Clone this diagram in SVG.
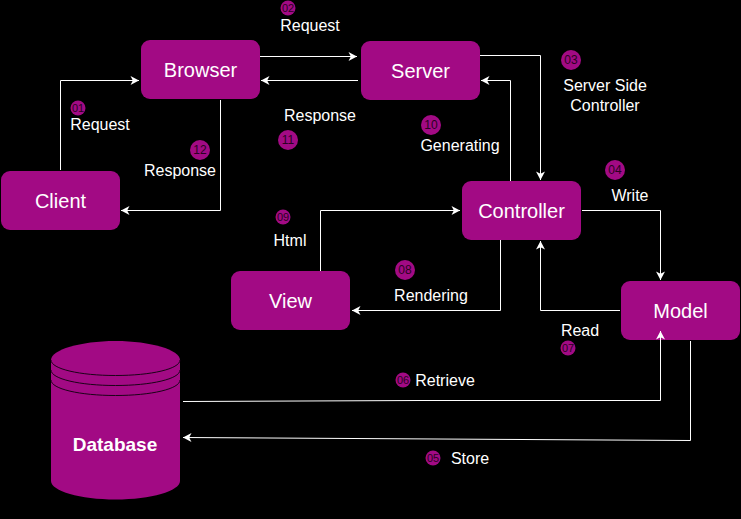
<svg xmlns="http://www.w3.org/2000/svg" width="741" height="519" viewBox="0 0 741 519">
<style>
text{font-family:"Liberation Sans",Arial,sans-serif;text-anchor:middle}
.n{fill:#a20a84}
.nt{font-size:20px;fill:#fff}
.l{font-size:16px;fill:#fff}
.b{fill:#a20a84}
.bt{fill:#2a0222;font-size:12px}
.bs{fill:#2a0222;font-size:11px}
.c{fill:none;stroke:#fff;stroke-width:1;marker-end:url(#a)}
.arc{fill:none;stroke:#1c0218;stroke-width:1}
</style>
<defs>
<marker id="a" markerUnits="userSpaceOnUse" markerWidth="10" markerHeight="10" refX="9" refY="5" orient="auto">
<path d="M0.500 0.500L9 5L0.500 9.500L2.800 5Z" fill="#fff"/>
</marker>
</defs>
<rect width="741" height="519" fill="#000"/>
<g id="browser"><rect class="n" x="141" y="40" width="119" height="59" rx="9"/><text class="nt" x="200.500" y="77">Browser</text></g>
<g id="server"><rect class="n" x="361" y="41" width="119" height="59" rx="9"/><text class="nt" x="420.500" y="78">Server</text></g>
<g id="client"><rect class="n" x="1" y="171" width="119" height="59" rx="9"/><text class="nt" x="60.500" y="208">Client</text></g>
<g id="controller"><rect class="n" x="462" y="181" width="119" height="59" rx="9"/><text class="nt" x="521.500" y="218">Controller</text></g>
<g id="view"><rect class="n" x="231" y="271" width="119" height="59" rx="9"/><text class="nt" x="290.500" y="308">View</text></g>
<g id="model"><rect class="n" x="621" y="281" width="119" height="59" rx="9"/><text class="nt" x="680.500" y="318">Model</text></g>
<g id="database">
<path class="n" d="M51 360C51 350 80 341 115.500 341S180 350 180 360V481C180 491 151 499.500 115.500 499.500S51 491 51 481Z"/>
<path class="arc" d="M51 360C51 369 80 375.500 115.500 375.500S180 369 180 360"/>
<path class="arc" d="M51 370C51 379 80 385.500 115.500 385.500S180 379 180 370"/>
<path class="arc" d="M51 380C51 389 80 395.500 115.500 395.500S180 389 180 380"/>
<text x="115" y="451" font-size="19" font-weight="700" fill="#fff">Database</text>
</g>
<g id="connectors">
<path class="c" d="M60.500 170V80.500H139"/>
<path class="c" d="M220.500 100V210.500H121"/>
<path class="c" d="M260 56.500H357"/>
<path class="c" d="M358 80.500H261"/>
<path class="c" d="M480 55.500H540.500V180"/>
<path class="c" d="M510.500 181V80.500H481"/>
<path class="c" d="M320.500 271V210.500H460"/>
<path class="c" d="M500.500 240V310.500H352"/>
<path class="c" d="M582 210.500H660.500V280"/>
<path class="c" d="M620 310.500H540.500V241"/>
<path class="c" d="M183 401.500L420 400.500H660.500V331"/>
<path class="c" d="M690.500 341V440.500L183 437.500"/>
</g>
<g id="labels">
<text class="l" x="100" y="130">Request</text>
<text class="l" x="310" y="31">Request</text>
<text class="l" x="320" y="121">Response</text>
<text class="l" x="180" y="176">Response</text>
<text class="l" x="605" y="91">Server Side</text>
<text class="l" x="605" y="111">Controller</text>
<text class="l" x="460" y="151">Generating</text>
<text class="l" x="630" y="201">Write</text>
<text class="l" x="290" y="246">Html</text>
<text class="l" x="431" y="301">Rendering</text>
<text class="l" x="580" y="336">Read</text>
<text class="l" x="445" y="386">Retrieve</text>
<text class="l" x="470" y="464">Store</text>
</g>
<g id="badges">
<circle class="b" cx="78" cy="108" r="7.500"/><text class="bs" x="78" y="112">01</text>
<circle class="b" cx="288" cy="8" r="7.500"/><text class="bs" x="288" y="12">02</text>
<circle class="b" cx="571" cy="60" r="10"/><text class="bt" x="571" y="64">03</text>
<circle class="b" cx="615" cy="170" r="10"/><text class="bt" x="615" y="174">04</text>
<circle class="b" cx="433" cy="458" r="7.500"/><text class="bs" x="433" y="462">05</text>
<circle class="b" cx="403" cy="380" r="7.500"/><text class="bs" x="403" y="384">06</text>
<circle class="b" cx="568" cy="348" r="7.500"/><text class="bs" x="568" y="352">07</text>
<circle class="b" cx="405" cy="270" r="10"/><text class="bt" x="405" y="274">08</text>
<circle class="b" cx="283" cy="217" r="7.500"/><text class="bs" x="283" y="221">09</text>
<circle class="b" cx="431" cy="125" r="10"/><text class="bt" x="431" y="129">10</text>
<circle class="b" cx="288" cy="140" r="10"/><text class="bt" x="288" y="144">11</text>
<circle class="b" cx="200" cy="150" r="10"/><text class="bt" x="200" y="154">12</text>
</g>
</svg>
